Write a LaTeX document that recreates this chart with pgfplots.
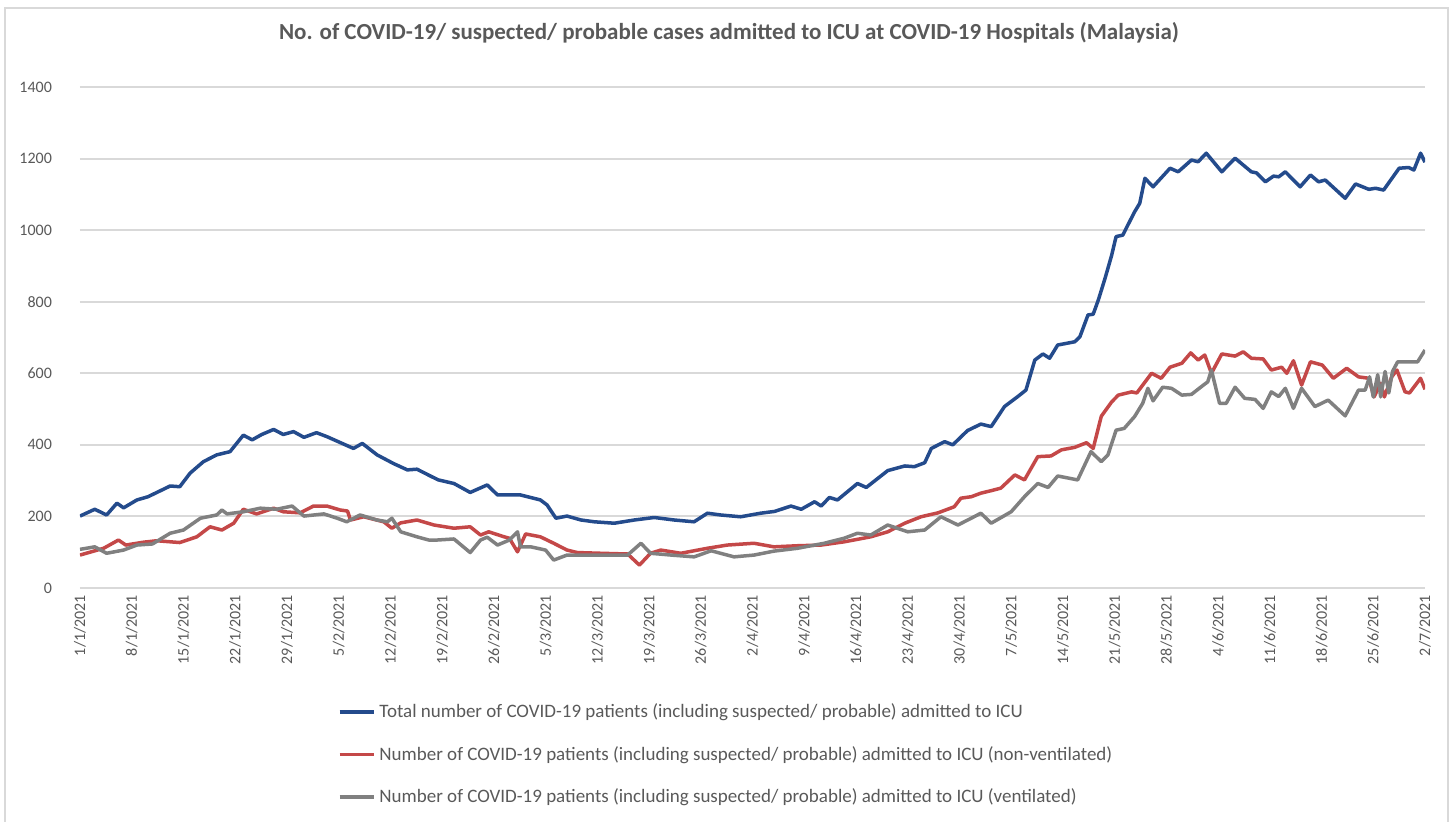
\documentclass[border=0pt]{standalone}
\usepackage{pgfplots}
\pgfplotsset{compat=1.18}
\usepackage{fontspec}
\setmainfont{Carlito}
\definecolor{cblue}{RGB}{36,75,140}
\definecolor{cred}{RGB}{196,72,72}
\definecolor{cgray}{RGB}{128,128,128}
\definecolor{ctext}{RGB}{89,89,89}
\definecolor{cgrid}{RGB}{217,217,217}
\begin{document}
\begin{tikzpicture}
\useasboundingbox (-40pt,-117pt) rectangle (688pt,294pt);
\draw[cgrid, line width=1pt] (-37.5pt,-118pt) -- (-37.5pt,290pt) -- (684pt,290pt) -- (684pt,-118pt);
\begin{axis}[
  at={(0pt,0pt)}, anchor=south west,
  width=672.5pt, height=250.5pt, scale only axis,
  xmin=0, xmax=182, ymin=0, ymax=1400,
  ytick={0,200,...,1400},
  xtick={0,7,...,182},
  xticklabels={1/1/2021,8/1/2021,15/1/2021,22/1/2021,29/1/2021,5/2/2021,12/2/2021,19/2/2021,26/2/2021,5/3/2021,12/3/2021,19/3/2021,26/3/2021,2/4/2021,9/4/2021,16/4/2021,23/4/2021,30/4/2021,7/5/2021,14/5/2021,21/5/2021,28/5/2021,4/6/2021,11/6/2021,18/6/2021,25/6/2021,2/7/2021},
  /pgf/number format/assume math mode=true,
  /pgf/number format/set thousands separator={},
  axis line style={draw=none},
  tick style={draw=none},
  ymajorgrids,
  grid style={cgrid, line width=1pt},
  ticklabel style={font=\fontsize{8}{9}\selectfont, text=ctext},
  xticklabel style={rotate=90, anchor=east},
  yticklabel style={xshift=-10.5pt},
  title={No. of COVID-19/ suspected/ probable cases admitted to ICU at COVID-19 Hospitals (Malaysia)},
  title style={at={(0.4825,1.084)}, anchor=center, font=\fontsize{11.5}{13}\selectfont\bfseries, text=ctext},
  legend style={at={(0.19,-0.218)}, anchor=north west, draw=none, fill=none,
    font=\fontsize{9.5}{10.5}\selectfont, text=ctext, row sep=8.8pt, inner sep=1pt,
    /tikz/every even column/.append style={column sep=0pt}},
  legend cell align=left,
  legend image code/.code={\draw[#1, line width=1.75pt] (0pt,0pt) -- (17pt,0pt);},
  every axis plot/.append style={line width=1.75pt, line join=round},
]
\addplot[cblue] coordinates {
(0,201)(2,220)(3.6,204)(5,237)(5.9,224)(7.7,246)(9.2,255)(12.2,285)(13.5,283)(14.9,321)
(16.7,353)(18.5,372)(20.3,381)(22.1,427)(23.3,414)(24.6,429)(26.2,443)(27.5,429)(28.9,437)(30.3,421)
(32,434)(33.4,423)(37,390)(38.2,404)(40.2,372)(42.4,348)(44.3,330)(45.6,332)(47.5,312)(48.5,302)
(50.6,292)(52.8,267)(55.1,288)(56.5,260)(59.6,260)(62.3,246)(63.2,232)(64.4,195)(65.9,201)(67.8,190)
(69.6,185)(72.3,181)(75,190)(77.7,197)(80.4,190)(83.1,185)(84.9,209)(86.7,204)(89.4,199)(92.1,209)
(94,214)(96.2,229)(97.6,220)(99.4,241)(100.3,229)(101.4,253)(102.5,246)(105.2,292)(106.4,281)(109.3,328)
(111.6,341)(112.9,339)(114.3,350)(115.2,390)(117,409)(118.1,400)(120.1,440)(121.9,458)(123.3,451)(125.1,507)
(126.9,535)(128,553)(129.2,637)(130.3,654)(131.2,642)(132.3,679)(134.6,688)(135.3,702)(136.4,763)(137.1,765)
(137.8,805)(138.7,865)(139.6,930)(140.2,982)(141.1,986)(142.7,1051)(143.4,1075)(144.1,1145)(145.2,1121)(147.5,1173)
(148.6,1163)(150.4,1196)(151.3,1191)(152.4,1215)(154.5,1163)(156.3,1201)(158.5,1163)(159.2,1160)(160.4,1135)(161.5,1151)
(162.2,1149)(163.1,1163)(165.1,1121)(166.5,1154)(167.6,1135)(168.5,1140)(171.2,1089)(172.6,1129)(174.4,1114)(175.3,1117)
(176.4,1112)(178.5,1173)(179.8,1175)(180.5,1168)(181.4,1215)(182,1190)
};
\addlegendentry{Total number of COVID-19 patients (including suspected/ probable) admitted to ICU}
\addplot[cred] coordinates {
(0,92)(3.2,111)(5.2,134)(6.2,120)(8.6,128)(10.4,132)(13.5,127)(15.8,143)(17.6,171)(19.2,162)
(20.8,181)(22.1,220)(23.9,207)(26.2,223)(27.5,213)(29.8,210)(31.6,229)(33.4,229)(35.2,218)(36.2,215)
(36.6,190)(38.4,199)(41.1,185)(42.2,167)(43.4,182)(45.6,190)(47.9,176)(50.6,167)(52.8,171)(54.2,148)
(55.3,157)(57.4,143)(58.1,139)(59.2,101)(60.3,151)(62.3,143)(64.1,125)(65.9,106)(67.3,99)(70.5,97)
(74.1,95)(75.7,64)(77.2,97)(78.6,106)(81.3,97)(84.9,111)(87.6,120)(91.2,125)(93.9,115)(97,118)
(100.3,120)(103.4,129)(107,143)(109.3,157)(111.6,181)(113.8,199)(116.1,210)(118.3,227)(119.2,251)(120.6,255)
(121.9,265)(123.3,272)(124.6,279)(126.5,316)(127.8,302)(129.6,367)(131.4,369)(132.8,386)(134.6,393)(136.2,406)
(137.1,390)(138.2,480)(139.6,520)(140.5,539)(142.3,548)(143,545)(145,600)(146.3,586)(147.5,617)(149.1,628)
(150.3,657)(151.3,637)(152.2,651)(153.1,600)(154.5,654)(156.3,648)(157.4,660)(158.5,642)(160.1,640)(161.2,609)
(162.6,617)(163.3,600)(164.2,635)(165.3,567)(166.5,632)(168.1,623)(169.6,586)(171.4,614)(173,590)(174.4,586)
(175.1,534)(176,572)(176.5,534)(177.5,590)(178.2,609)(179.3,548)(179.9,545)(181.4,586)(182,555)
};
\addlegendentry{Number of COVID-19 patients (including suspected/ probable) admitted to ICU (non-ventilated)}
\addplot[cgray] coordinates {
(0,108)(2,115)(3.6,97)(5.9,106)(7.7,120)(9.8,123)(12.2,153)(14,162)(16.3,195)(18.5,204)
(19.2,218)(19.9,207)(22.1,213)(24.4,223)(26.6,220)(28.7,229)(30.3,201)(33,207)(34.8,195)(36.1,185)
(37.9,204)(40.2,190)(41.6,185)(42.2,195)(43.4,157)(45.6,143)(47.2,134)(48.3,134)(50.6,137)(52.8,99)
(54.2,134)(55.1,142)(56.5,120)(58.1,134)(59.2,157)(59.6,115)(61,115)(63,106)(64.1,78)(65.9,92)
(67.8,92)(71.4,92)(74.1,92)(75.9,125)(77.2,97)(80,92)(83.1,87)(85.4,104)(88.5,87)(91.2,92)
(93.9,103)(97.1,111)(100.7,125)(103.4,139)(105.2,153)(107,148)(109.3,176)(112,157)(114.3,162)(116.5,199)
(118.8,176)(120.6,195)(121.9,209)(123.3,181)(126,213)(127.8,255)(129.6,292)(131,281)(132.3,313)(135,302)
(136.8,381)(138.2,353)(139.1,372)(140.2,441)(141.3,446)(142.7,479)(143.8,516)(144.5,558)(145.2,523)(146.5,561)
(147.7,558)(149.1,539)(150.4,541)(151.7,562)(152.6,576)(153.1,609)(154.2,516)(155.1,516)(156.3,561)(157.6,530)
(159,527)(160.1,502)(161.2,548)(162.2,535)(163.1,558)(164.2,502)(165.3,558)(167.1,507)(168.9,525)(171.2,481)
(173,553)(173.9,553)(174.5,590)(175,534)(175.6,596)(176,534)(176.6,605)(177.1,545)(177.6,605)(178.3,632)
(180,632)(181,632)(182,665)
};
\addlegendentry{Number of COVID-19 patients (including suspected/ probable) admitted to ICU (ventilated)}
\end{axis}
\end{tikzpicture}
\end{document}
